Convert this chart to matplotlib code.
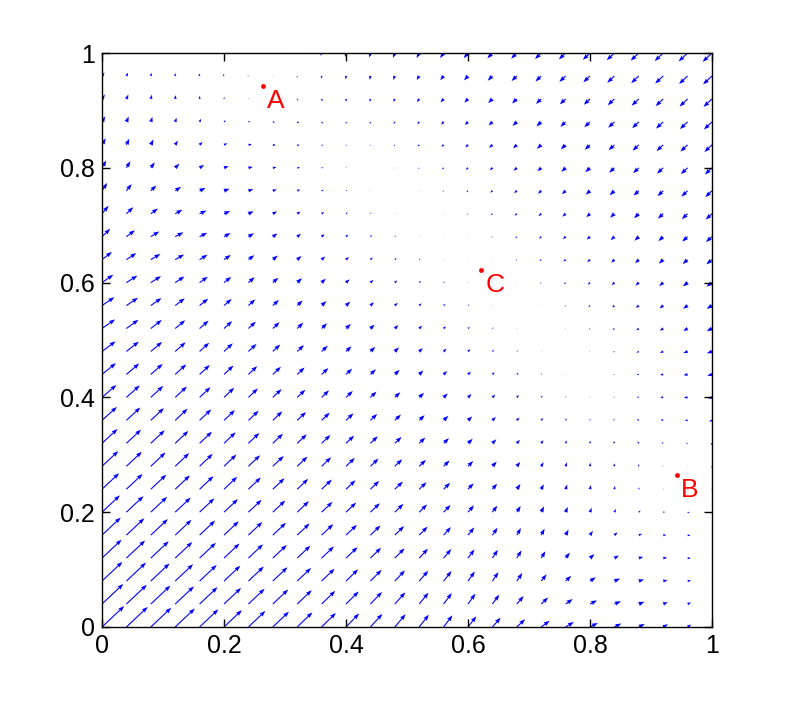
import numpy as np
import matplotlib
matplotlib.use("Agg")
import matplotlib.pyplot as plt

# sampling grid of the vector field
grid_step = 0.04
grid_max = 1.0

# field model: common drive along x+y, plus a small split along x-y
drive_amp = 2.791     # amplitude of exp. drive
drive_len = 2.804     # decay length in s = x + y
drive_off = 1.791     # constant loss
split_curv = 0.053    # even part in d = x - y
split_gain = 1.04     # odd part near the two stable states
split_pos = 0.678     # |x - y| at A and B
split_width = 0.18

# marked steady states
point_names = ["A", "B", "C"]
point_x = [0.264, 0.942, 0.622]
point_y = [0.942, 0.264, 0.622]

tick_vals = [0, 0.2, 0.4, 0.6, 0.8, 1]
tick_labels = ["0", "0.2", "0.4", "0.6", "0.8", "1"]


def drive(s):
    return drive_amp * np.exp(-s / drive_len) - drive_off


def bump(z):
    return z * np.exp(-(z / split_width) ** 2)


def split(d):
    return -split_curv * d ** 2 + split_gain * (bump(d - split_pos) - bump(-d - split_pos))


g = np.arange(0, grid_max + grid_step / 2, grid_step)
X, Y = np.meshgrid(g, g)
U = drive(X + Y) + split(X - Y)
V = drive(X + Y) + split(Y - X)

fig = plt.figure(figsize=(7.87, 7.04), dpi=100)
ax = fig.add_axes([0.1296, 0.1094, 0.7751, 0.8153])

ax.quiver(X, Y, U, V, color="#0000ff", angles="xy", scale_units="xy",
          scale=27.5, width=0.0018, headwidth=4, headlength=5.5,
          headaxislength=5, minlength=0.3)

ax.plot(point_x, point_y, "o", color="red", ms=3.5, mec="none", zorder=5)
for name, px, py in zip(point_names, point_x, point_y):
    ax.annotate(name, (px, py), xytext=(3, -2), textcoords="offset points",
                ha="left", va="top", color="red", fontsize=19,
                family=["Liberation Sans", "DejaVu Sans"])

ax.set_xlim(0, 1)
ax.set_ylim(0, 1)
ax.set_xticks(tick_vals)
ax.set_xticklabels(tick_labels)
ax.set_yticks(tick_vals)
ax.set_yticklabels(tick_labels)
ax.tick_params(direction="in", length=6, width=1, top=True, right=True,
               labelsize=18, pad=5)
for lab in ax.get_xticklabels() + ax.get_yticklabels():
    lab.set_family(["Liberation Sans", "DejaVu Sans"])
for sp in ax.spines.values():
    sp.set_linewidth(1)

fig.savefig("out.png", dpi=100)
